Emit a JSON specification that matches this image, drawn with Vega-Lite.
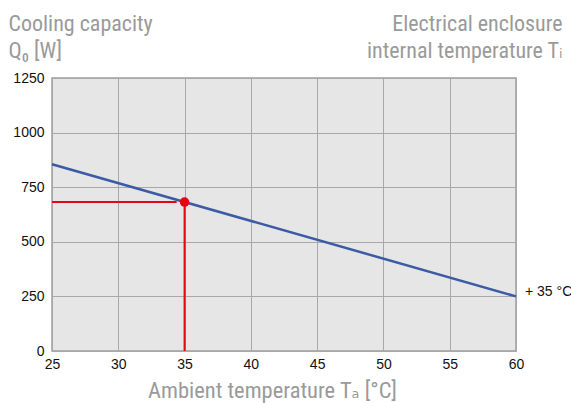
{
  "$schema": "https://vega.github.io/schema/vega-lite/v6.json",
  "width": 464,
  "height": 273,
  "autosize": {"type": "none"},
  "padding": {"left": 52, "top": 78, "right": 55, "bottom": 52},
  "background": "white",
  "config": {
    "view": {"fill": "#e6e6e6", "stroke": "#9e9e9e", "strokeWidth": 1.5},
    "axis": {
      "grid": true,
      "gridColor": "#a8a8a8",
      "gridWidth": 1,
      "ticks": false,
      "domain": false,
      "labelFlush": false,
      "labelFont": "Liberation Sans, Arial, sans-serif",
      "labelFontSize": 14,
      "labelColor": "#111111",
      "titleFont": "Roboto Condensed, DejaVu Sans Condensed, Liberation Sans Narrow, sans-serif",
      "titleFontSize": 22,
      "titleFontWeight": "normal",
      "titleColor": "#9a9a9a"
    }
  },
  "resolve": {"scale": {"y": "independent"}, "axis": {"y": "independent"}},
  "layer": [
    {
      "data": {"values": [{"T": 25, "Q": 855}, {"T": 60, "Q": 250}]},
      "mark": {"type": "line", "color": "#3b5ba5", "strokeWidth": 2.5},
      "encoding": {
        "x": {
          "field": "T", "type": "quantitative",
          "scale": {"domain": [25, 60], "nice": false, "zero": false},
          "axis": {
            "values": [25, 30, 35, 40, 45, 50, 55, 60],
            "labelPadding": 6,
            "title": "Ambient temperature Tₐ [°C]",
            "titleFontSize": 22.5,
            "titleX": 220,
            "titlePadding": 8
          }
        },
        "y": {
          "field": "Q", "type": "quantitative",
          "scale": {"domain": [0, 1250], "nice": false},
          "axis": {
            "values": [0, 250, 500, 750, 1000, 1250],
            "format": "d",
            "labelPadding": 8,
            "title": ["Cooling capacity", "Q₀ [W]"],
            "titleAngle": 0,
            "titleAlign": "left",
            "titleBaseline": "alphabetic",
            "titleX": -44,
            "titleY": -48,
            "titleLineHeight": 27
          }
        }
      }
    },
    {
      "data": {"values": [
        {"x1": 25, "x2": 34.4, "y1": 682, "y2": 682},
        {"x1": 35, "x2": 35, "y1": 0, "y2": 682}
      ]},
      "mark": {"type": "rule", "color": "#e30613", "strokeWidth": 2},
      "encoding": {
        "x": {"field": "x1", "type": "quantitative"},
        "x2": {"field": "x2"},
        "y": {"field": "y1", "type": "quantitative", "scale": {"domain": [0, 1250], "nice": false}, "axis": null},
        "y2": {"field": "y2"}
      }
    },
    {
      "data": {"values": [{"T": 35, "Q": 682}]},
      "mark": {"type": "point", "filled": true, "color": "#e30613", "size": 90, "opacity": 1},
      "encoding": {
        "x": {"field": "T", "type": "quantitative"},
        "y": {"field": "Q", "type": "quantitative", "scale": {"domain": [0, 1250], "nice": false}, "axis": null}
      }
    },
    {
      "data": {"values": [{"T": 60, "Q": 250, "label": "+ 35 °C"}]},
      "mark": {"type": "text", "align": "left", "baseline": "middle", "dx": 9, "dy": -4, "font": "Liberation Sans, Arial, sans-serif", "fontSize": 14, "color": "#111111"},
      "encoding": {
        "x": {"field": "T", "type": "quantitative"},
        "y": {
          "field": "Q", "type": "quantitative",
          "scale": {"domain": [0, 1250], "nice": false},
          "axis": {
            "orient": "right",
            "labels": false,
            "grid": false,
            "title": ["Electrical enclosure", "internal temperature Tᵢ"],
            "titleAngle": 0,
            "titleAlign": "right",
            "titleBaseline": "alphabetic",
            "titleX": 46,
            "titleY": -48,
            "titleLineHeight": 27
          }
        },
        "text": {"field": "label"}
      }
    }
  ]
}
